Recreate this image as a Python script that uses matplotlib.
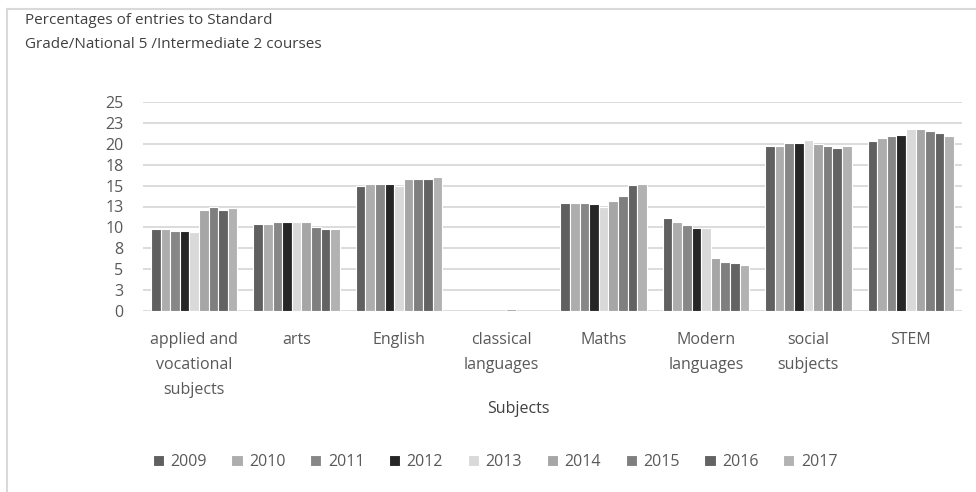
import math
import numpy as np
import matplotlib
matplotlib.use("Agg")
import matplotlib.pyplot as plt
from matplotlib.lines import Line2D
from matplotlib.ticker import FixedLocator, FuncFormatter

plt.rcParams["font.family"] = ["Open Sans", "DejaVu Sans"]

# 数据
subjects = [
    "applied and\nvocational\nsubjects", "arts", "English", "classical\nlanguages",
    "Maths", "Modern\nlanguages", "social\nsubjects", "STEM",
]
years = ["2009", "2010", "2011", "2012", "2013", "2014", "2015", "2016", "2017"]

y2009 = [9.85, 10.45, 15.0, 0.0, 12.9, 11.15, 19.7, 20.3]
y2010 = [9.85, 10.45, 15.15, 0.0, 12.9, 10.7, 19.7, 20.7]
y2011 = [9.6, 10.65, 15.15, 0.0, 12.9, 10.25, 20.1, 20.9]
y2012 = [9.6, 10.65, 15.15, 0.0, 12.75, 9.9, 20.1, 21.1]
y2013 = [9.4, 10.65, 15.0, 0.0, 12.5, 9.95, 20.5, 21.75]
y2014 = [12.05, 10.65, 15.8, 0.2, 13.1, 6.3, 19.95, 21.75]
y2015 = [12.5, 10.0, 15.8, 0.0, 13.8, 5.9, 19.7, 21.5]
y2016 = [12.05, 9.85, 15.8, 0.0, 15.05, 5.7, 19.45, 21.3]
y2017 = [12.3, 9.85, 16.0, 0.0, 15.25, 5.5, 19.7, 20.9]
series = [y2009, y2010, y2011, y2012, y2013, y2014, y2015, y2016, y2017]

colors = ["#606060", "#adadad", "#878787", "#262626", "#d9d9d9",
          "#a6a6a6", "#7f7f7f", "#636363", "#b2b2b2"]

fig = plt.figure(figsize=(9.76, 4.92), dpi=100)
ax = fig.add_axes([143 / 976, 1 - 311 / 492, (962 - 143) / 976, (311 - 102) / 492])

x = np.arange(len(subjects))
bw = 0.094
for i, (yr, vals) in enumerate(zip(years, series)):
    ax.bar(x + (i - 4) * bw, vals, width=bw, color=colors[i],
           edgecolor="white", linewidth=0.8, label=yr, zorder=3)

ax.set_xlim(-0.5, len(subjects) - 0.5)
ax.set_ylim(0, 25)
ax.yaxis.set_major_locator(FixedLocator(np.arange(0, 25.01, 2.5)))
ax.yaxis.set_major_formatter(FuncFormatter(lambda v, p: str(int(math.floor(v + 0.5)))))
ax.grid(axis="y", color="#d9d9d9", linewidth=1.3, zorder=0)
for s in ax.spines.values():
    s.set_visible(False)
ax.tick_params(axis="both", length=0, labelsize=11.5, labelcolor="#595959")
ax.tick_params(axis="y", pad=14)
ax.set_xticks(x)
ax.set_xticklabels(subjects, linespacing=1.75)
ax.tick_params(axis="x", pad=15)

# 标题和坐标轴标题
fig.text(25 / 976, 1 - 20 / 492, "Percentages of entries to Standard",
         fontsize=11, color="#404040", va="center", ha="left")
fig.text(25 / 976, 1 - 45 / 492, "Grade/National 5 /Intermediate 2 courses",
         fontsize=11, color="#404040", va="center", ha="left")
fig.text(518 / 976, 1 - 409 / 492, "Subjects", fontsize=11.5, color="#404040",
         va="center", ha="center")

# 图例
fig.legend(loc="center", bbox_to_anchor=(495 / 976, 1 - 462 / 492), ncol=9,
           frameon=False, fontsize=11.5, handlelength=0.7, handleheight=0.7,
           handletextpad=0.4, columnspacing=1.55, labelcolor="#595959")

# 图表边框
fig.add_artist(Line2D([7 / 976, 7 / 976], [0, 1 - 9 / 492], color="#d9d9d9", lw=1.5))
fig.add_artist(Line2D([7 / 976, 1], [1 - 9 / 492, 1 - 9 / 492], color="#d9d9d9", lw=1.5))

fig.savefig("out.png", dpi=100)
